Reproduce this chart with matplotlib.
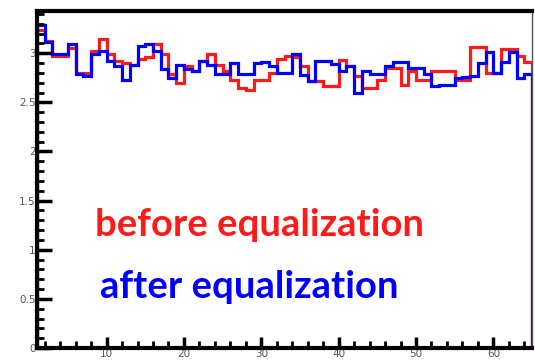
import matplotlib
matplotlib.use("Agg")
import matplotlib.pyplot as plt
import numpy as np
from matplotlib.ticker import MultipleLocator

# channel bin edges (64 channels)
channels = list(range(1, 66))

before_eq = [3.24, 3.12, 2.97, 2.97, 3.05, 2.80, 2.80, 3.02, 3.14, 2.99,
             2.92, 2.90, 2.88, 2.94, 2.96, 3.09, 2.99, 2.79, 2.70, 2.87,
             2.82, 2.92, 2.99, 2.88, 2.82, 2.73, 2.65, 2.63, 2.73, 2.73,
             2.80, 2.94, 2.97, 2.96, 2.87, 2.72, 2.72, 2.67, 2.67, 2.93,
             2.87, 2.77, 2.65, 2.65, 2.73, 2.85, 2.85, 2.68, 2.82, 2.73,
             2.73, 2.82, 2.82, 2.82, 2.73, 2.73, 3.06, 3.06, 2.80, 2.80,
             3.04, 3.04, 2.97, 2.91]

after_eq = [3.29, 3.11, 2.99, 2.99, 3.09, 2.79, 2.77, 2.99, 3.02, 2.92,
            2.87, 2.73, 2.88, 3.07, 3.09, 3.02, 2.84, 2.75, 2.88, 2.84,
            2.82, 2.92, 2.88, 2.79, 2.79, 2.90, 2.79, 2.79, 2.90, 2.91,
            2.87, 2.80, 2.80, 2.99, 2.78, 2.72, 2.92, 2.92, 2.89, 2.82,
            2.87, 2.60, 2.82, 2.79, 2.79, 2.87, 2.91, 2.91, 2.85, 2.85,
            2.79, 2.67, 2.68, 2.68, 2.75, 2.76, 2.77, 2.90, 3.01, 2.80,
            2.91, 3.01, 2.75, 2.79]

x_ticks = [10, 20, 30, 40, 50, 60]
y_ticks = [0, 0.5, 1, 1.5, 2, 2.5, 3]
y_tick_labels = ["0", "0.5", "1", "1.5", "2", "2.5", "3"]

fig = plt.figure(figsize=(5.35, 3.62), dpi=100)
ax = fig.add_axes([37/535, 14/362, (532-37)/535, (348-11)/362])

ax.stairs(before_eq, channels, color="#ff1a1a", linewidth=2.3)
ax.stairs(after_eq, channels, color="#0000ff", linewidth=2.3)

ax.set_xlim(1, 65)
ax.set_ylim(0, 3.43)

ax.set_xticks(x_ticks)
ax.set_xticklabels([str(t) for t in x_ticks])
ax.set_yticks(y_ticks)
ax.set_yticklabels(y_tick_labels)
ax.xaxis.set_minor_locator(MultipleLocator(2))
ax.yaxis.set_minor_locator(MultipleLocator(0.1))

ax.tick_params(axis="both", which="major", direction="in", width=2.5,
               colors="black", labelcolor="#555555", labelsize=7.5, pad=1)
ax.tick_params(axis="y", which="major", length=11)
ax.tick_params(axis="x", which="major", length=8)
ax.tick_params(axis="both", which="minor", direction="in", width=2.0, length=5)

for s in ["left", "bottom", "top"]:
    ax.spines[s].set_linewidth(3.0)
ax.spines["right"].set_linewidth(1.0)
ax.spines["right"].set_color("#555555")

ax.text(0.117, 0.365, "before equalization", transform=ax.transAxes,
        color="#ff1a1a", fontsize=27.5, fontweight="bold", family="Lato",
        va="center", ha="left")
ax.text(0.127, 0.181, "after equalization", transform=ax.transAxes,
        color="#0000ff", fontsize=27.5, fontweight="bold", family="Lato",
        va="center", ha="left")

fig.savefig("out.png", dpi=100)
